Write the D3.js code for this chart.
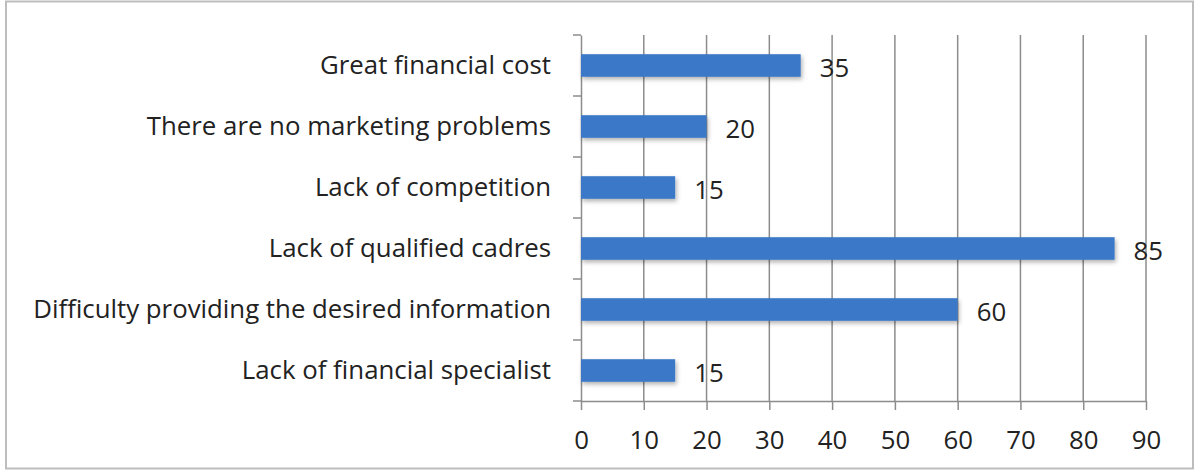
<!DOCTYPE html>
<html><head><meta charset="utf-8">
<script src="https://cdn.jsdelivr.net/npm/d3@7"></script>
<style>body{margin:0;background:#fff}svg{display:block}</style>
</head><body>
<svg id="c" width="1201" height="471"></svg>
<script>
const categories = ["Great financial cost","There are no marketing problems","Lack of competition","Lack of qualified cadres","Difficulty providing the desired information","Lack of financial specialist"];
const values = [35,20,15,85,60,15];
const xTicks = [0,10,20,30,40,50,60,70,80,90];

const svg = d3.select("#c");
const font = "'Open Sans', 'Noto Sans', sans-serif";
const fs = 25.8;
svg.append("rect").attr("x",6).attr("y",1.5).attr("width",1187).attr("height",467)
  .attr("fill","#fff").attr("stroke","#bdbdbd").attr("stroke-width",2);

const defs = svg.append("defs");
const f = defs.append("filter").attr("id","sh").attr("x","-5%").attr("y","-30%").attr("width","115%").attr("height","180%");
f.append("feDropShadow").attr("dx",1.5).attr("dy",2.5).attr("stdDeviation",2).attr("flood-color","#000").attr("flood-opacity",0.3);

const x = d3.scaleLinear().domain([0,90]).range([581,1146]);
const y = d3.scaleBand().domain(categories).range([35,401]).paddingInner(0.63).paddingOuter(0.315);

// gridlines
svg.append("g").selectAll("line").data(xTicks.slice(1)).join("line")
  .attr("x1",d=>x(d)).attr("x2",d=>x(d)).attr("y1",35).attr("y2",401)
  .attr("stroke","#8c8c8c").attr("stroke-width",1.5);

// x axis
const xa = svg.append("g").attr("transform","translate(0,401)")
  .call(d3.axisBottom(x).tickValues(xTicks).tickSize(9).tickPadding(21).tickSizeOuter(0));
xa.select(".domain").attr("stroke","#8c8c8c").attr("stroke-width",1.5);
xa.selectAll(".tick line").attr("stroke","#8c8c8c").attr("stroke-width",1.5);
xa.selectAll("text").attr("font-family",font).attr("font-size",fs).attr("fill","#222");

// y axis
const step = (401-35)/categories.length;
const ya = svg.append("g").attr("transform","translate(581,0)")
  .call(d3.axisLeft(y).tickSize(0).tickPadding(30));
ya.select(".domain").attr("stroke","#8c8c8c").attr("stroke-width",1.5);
ya.selectAll("text").attr("font-family",font).attr("font-size",fs).attr("fill","#222");
svg.append("g").selectAll("line").data(d3.range(categories.length+1)).join("line")
  .attr("x1",573).attr("x2",581).attr("y1",i=>35+i*step).attr("y2",i=>35+i*step)
  .attr("stroke","#8c8c8c").attr("stroke-width",1.5);

// bars
svg.append("g").selectAll("rect").data(values).join("rect")
  .attr("x",x(0)).attr("y",(d,i)=>y(categories[i]))
  .attr("width",d=>x(d)-x(0)).attr("height",y.bandwidth())
  .attr("fill","#3a78c8").attr("filter","url(#sh)");

// labels
svg.append("g").selectAll("text").data(values).join("text")
  .attr("x",d=>x(d)+19).attr("y",(d,i)=>y(categories[i])+y.bandwidth()/2)
  .attr("dy","0.43em").attr("font-family",font).attr("font-size",fs).attr("fill","#222")
  .text(d=>d);
</script>
</body></html>
